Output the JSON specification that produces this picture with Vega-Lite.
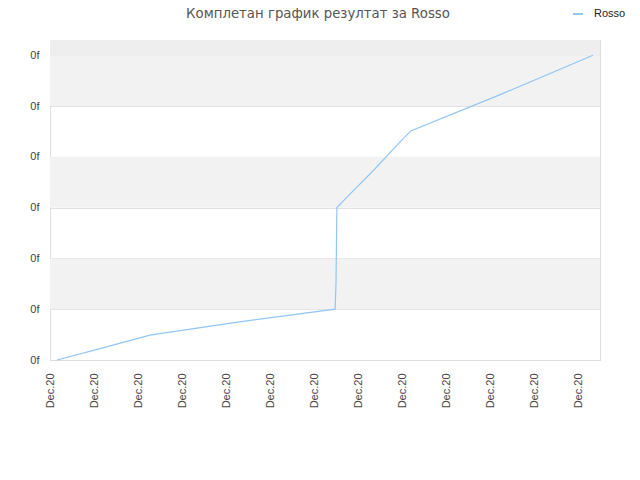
{
  "$schema": "https://vega.github.io/schema/vega-lite/v6.json",
  "width": 550,
  "height": 320,
  "autosize": {"type": "none"},
  "padding": {"left": 50, "top": 40, "right": 40, "bottom": 120},
  "background": "white",
  "title": {
    "text": "Комплетан график резултат за Rosso",
    "anchor": "middle",
    "frame": "group",
    "offset": 0,
    "dy": 12,
    "font": "DejaVu Sans",
    "fontSize": 13.3,
    "fontWeight": "normal",
    "color": "#555555",
    "dx": -7
  },
  "config": {
    "view": {"stroke": "#dddddd", "strokeWidth": 1},
    "axis": {"labelFont": "Liberation Sans", "labelFontSize": 11, "labelColor": "#444444", "domainColor": "#dddddd", "gridColor": "#e0e0e0", "ticks": false, "title": null}
  },
  "datasets": {
    "bands": [
      {"lo": 1, "hi": 2},
      {"lo": 3, "hi": 4},
      {"lo": 5, "hi": 6},
      {"lo": 6, "hi": 6.3}
    ],
    "series": [
      {"t": 0.16, "v": 0.0, "s": "Rosso"},
      {"t": 1.2, "v": 0.24, "s": "Rosso"},
      {"t": 2.27, "v": 0.49, "s": "Rosso"},
      {"t": 4.3, "v": 0.75, "s": "Rosso"},
      {"t": 6.48, "v": 1.0, "s": "Rosso"},
      {"t": 6.5, "v": 1.5, "s": "Rosso"},
      {"t": 6.52, "v": 3.0, "s": "Rosso"},
      {"t": 6.8, "v": 3.25, "s": "Rosso"},
      {"t": 7.36, "v": 3.74, "s": "Rosso"},
      {"t": 7.93, "v": 4.27, "s": "Rosso"},
      {"t": 8.2, "v": 4.51, "s": "Rosso"},
      {"t": 10.3, "v": 5.25, "s": "Rosso"},
      {"t": 12.34, "v": 6.0, "s": "Rosso"}
    ]
  },
  "layer": [
    {
      "data": {"name": "bands"},
      "transform": [{"filter": "datum.lo < 6"}],
      "mark": {"type": "rect", "fill": "#f2f2f2"},
      "encoding": {
        "y": {"field": "lo", "type": "quantitative", "scale": {"domain": [0, 6.3], "nice": false, "zero": false}},
        "y2": {"field": "hi"}
      }
    },
    {
      "data": {"name": "bands"},
      "transform": [{"filter": "datum.lo >= 6"}],
      "mark": {"type": "rect", "fill": "#eeeeee"},
      "encoding": {
        "y": {"field": "lo", "type": "quantitative"},
        "y2": {"field": "hi"}
      }
    },
    {
      "data": {"name": "series"},
      "mark": {"type": "line", "strokeWidth": 1.2, "interpolate": "linear"},
      "encoding": {
        "x": {
          "field": "t", "type": "quantitative",
          "scale": {"domain": [0, 12.5], "nice": false, "zero": false},
          "axis": {"values": [0,1,2,3,4,5,6,7,8,9,10,11,12], "labelExpr": "'Dec.20'", "labelAngle": -90, "labelAlign": "right", "labelBaseline": "middle", "labelPadding": 13, "grid": false, "domainColor": "#dddddd"}
        },
        "y": {
          "field": "v", "type": "quantitative",
          "scale": {"domain": [0, 6.3], "nice": false, "zero": false},
          "axis": {"values": [0,1,2,3,4,5,6], "labelExpr": "'0f'", "labelPadding": 11, "grid": true, "domain": true}
        },
        "color": {
          "field": "s", "type": "nominal",
          "scale": {"range": ["#92c5f5"]},
          "legend": {"orient": "none", "legendX": 522, "legendY": -32, "padding": 0, "title": null, "symbolType": "stroke", "symbolSize": 100, "symbolStrokeWidth": 2, "labelOffset": 10, "labelFont": "Liberation Sans", "labelFontSize": 11, "labelColor": "#222222"}
        }
      }
    }
  ]
}
